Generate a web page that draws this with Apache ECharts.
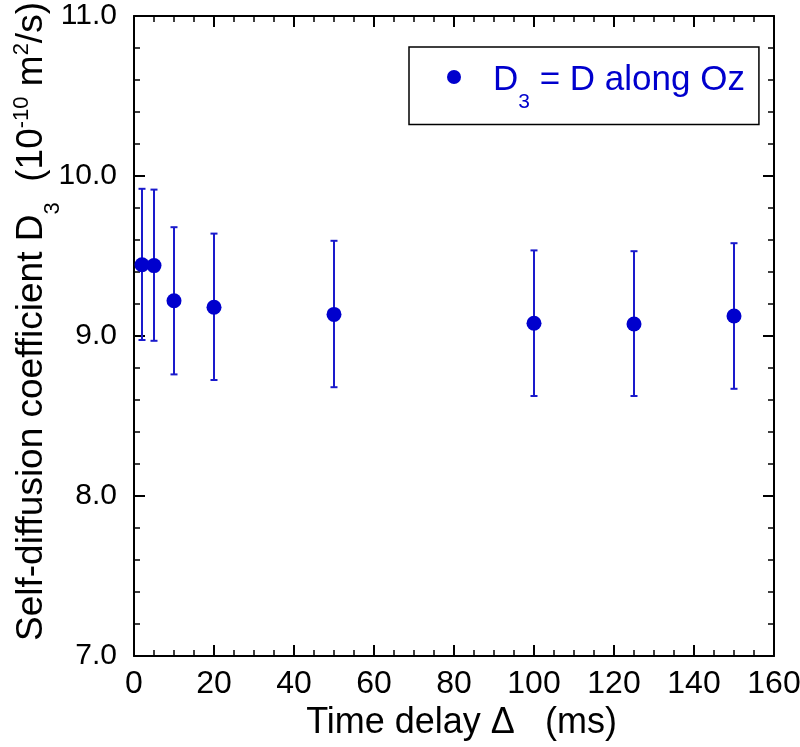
<!DOCTYPE html>
<html><head><meta charset="utf-8">
<script src="https://cdn.jsdelivr.net/npm/echarts@6/dist/echarts.min.js"></script>
<style>html,body{margin:0;padding:0;background:#fff}#c{width:800px;height:747px}</style>
</head><body><div id="c"></div>
<script>
// Data
const delays = [2, 5, 10, 20, 50, 100, 125, 150];
const dValues = [9.445, 9.44, 9.22, 9.18, 9.135, 9.08, 9.075, 9.125];
const dUpper = [9.92, 9.915, 9.68, 9.64, 9.595, 9.535, 9.53, 9.58];
const dLower = [8.975, 8.97, 8.76, 8.725, 8.68, 8.625, 8.625, 8.67];
const xTickLabels = [0, 20, 40, 60, 80, 100, 120, 140, 160];
const yTickLabels = [7.0, 8.0, 9.0, 10.0, 11.0];

const FONT = 'Liberation Sans';
const BLUE = '#0000cd';
const BAR = '#1a1acc';

const chart = echarts.init(document.getElementById('c'), null, {renderer: 'canvas'});

function axisCommon(split) {
  return {
    axisLine: {show: true, onZero: false, lineStyle: {color: '#000', width: 2}},
    axisTick: {show: true, inside: true, length: 11, lineStyle: {color: '#000', width: 2}},
    minorTick: {show: true, splitNumber: split, length: 6, lineStyle: {color: '#000', width: 1.5}},
    splitLine: {show: false},
    minorSplitLine: {show: false}
  };
}

const xMin = xTickLabels[0], xMax = xTickLabels[xTickLabels.length - 1];
const xInt = xTickLabels[1] - xTickLabels[0];
const yMin = yTickLabels[0], yMax = yTickLabels[yTickLabels.length - 1];
const yInt = yTickLabels[1] - yTickLabels[0];

const option = {
  animation: false,
  backgroundColor: '#fff',
  grid: {left: 134, right: 26, top: 16, bottom: 91, containLabel: false, outerBoundsMode: 'none'},
  legend: {
    left: 409, top: 47,
    orient: 'horizontal',
    padding: [16, 14, 12, 38],
    borderColor: '#000', borderWidth: 1.5,
    itemWidth: 14, itemHeight: 14,
    data: [{name: 'D3', icon: 'circle'}],
    formatter: function () { return '{gap|}{m|D}{sub|3}{m| = D along Oz}'; },
    textStyle: {
      color: BLUE, fontFamily: FONT, fontSize: 35,
      rich: {
        gap: {width: 27, fontSize: 14},
        m: {color: BLUE, fontFamily: FONT, fontSize: 35, padding: [7, 0, 0, 0]},
        sub: {color: BLUE, fontFamily: FONT, fontSize: 21, padding: [50, 0, 0, 0]}
      }
    }
  },
  xAxis: [
    Object.assign({
      type: 'value', position: 'bottom', min: xMin, max: xMax, interval: xInt,
      axisLabel: {show: true, margin: 12, color: '#000', fontFamily: FONT, fontSize: 32, showMinLabel: true, showMaxLabel: true, hideOverlap: false},
      name: 'Time delay \u0394   (ms)', nameLocation: 'middle', nameGap: 49,
      nameTextStyle: {color: '#000', fontFamily: FONT, fontSize: 36, padding: [0, 0, 0, 15]}
    }, axisCommon(4)),
    Object.assign({
      type: 'value', position: 'top', min: xMin, max: xMax, interval: xInt,
      axisLabel: {show: false}
    }, axisCommon(4))
  ],
  yAxis: [
    Object.assign({
      type: 'value', position: 'left', min: yMin, max: yMax, interval: yInt,
      axisLabel: {show: true, margin: 17, color: '#000', fontFamily: FONT, fontSize: 30, formatter: v => v.toFixed(1), showMinLabel: true, showMaxLabel: true, hideOverlap: false},
      name: '{m|Self-diffusion coefficient D}{sub|3}{m|  (10}{sup|-10}{m| m}{sup|2}{m|/s)}',
      nameLocation: 'middle', nameRotate: 90, nameGap: 70, nameMoveOverlap: false,
      nameTextStyle: {
        color: '#000', fontFamily: FONT, fontSize: 37, padding: [0, 0, 0, 29],
        rich: {
          m: {color: '#000', fontFamily: FONT, fontSize: 37},
          sub: {color: '#000', fontFamily: FONT, fontSize: 22, padding: [42, 0, 0, 0]},
          sup: {color: '#000', fontFamily: FONT, fontSize: 22, padding: [0, 0, 20, 0]}
        }
      }
    }, axisCommon(5)),
    Object.assign({
      type: 'value', position: 'right', min: yMin, max: yMax, interval: yInt,
      axisLabel: {show: false}
    }, axisCommon(5))
  ],
  series: [
    {
      type: 'custom', name: 'err', xAxisIndex: 0, yAxisIndex: 0,
      data: delays.map((x, i) => [x, dLower[i], dUpper[i]]),
      encode: {x: 0, y: [1, 2]},
      silent: true,
      renderItem: function (params, api) {
        const x = api.value(0);
        const pTop = api.coord([x, api.value(2)]);
        const pBot = api.coord([x, api.value(1)]);
        const w = 3.5;
        const st = {stroke: BAR, lineWidth: 2};
        return {type: 'group', children: [
          {type: 'line', shape: {x1: pTop[0], y1: pTop[1], x2: pBot[0], y2: pBot[1]}, style: st},
          {type: 'line', shape: {x1: pTop[0] - w, y1: pTop[1], x2: pTop[0] + w, y2: pTop[1]}, style: st},
          {type: 'line', shape: {x1: pBot[0] - w, y1: pBot[1], x2: pBot[0] + w, y2: pBot[1]}, style: st}
        ]};
      },
      z: 2
    },
    {
      type: 'scatter', name: 'D3', xAxisIndex: 0, yAxisIndex: 0,
      data: delays.map((x, i) => [x, dValues[i]]),
      symbol: 'circle', symbolSize: 15,
      itemStyle: {color: BLUE, opacity: 1},
      z: 3
    }
  ]
};
chart.setOption(option);
</script>
</body></html>
